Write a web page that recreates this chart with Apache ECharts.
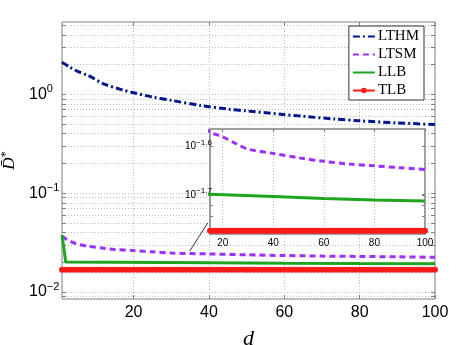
<!DOCTYPE html>
<html>
<head>
<meta charset="utf-8">
<script src="https://cdn.jsdelivr.net/npm/echarts@6/dist/echarts.min.js"></script>
<style>
  html, body { margin: 0; padding: 0; background: #fff; }
  #chart { width: 473px; height: 345px; }
</style>
</head>
<body>
<div id="chart"></div>
<script>
// values
const lthmD = [1, 3, 5, 8, 12, 17, 20, 25, 30, 38, 45, 50, 59, 65, 73, 80, 90, 100];
const lthm = [2.12, 1.89, 1.72, 1.55, 1.28, 1.11, 1.04, 0.94, 0.87, 0.77, 0.71, 0.68, 0.63, 0.6, 0.565, 0.54, 0.515, 0.495];

const ltsmD = [1, 2, 3, 5, 8, 12, 15, 20, 25, 30, 40, 50, 60, 70, 80, 90, 100];
const ltsm = [0.0366, 0.0345, 0.0328, 0.0306, 0.029, 0.0278, 0.0269, 0.0263, 0.0255, 0.0248, 0.0243, 0.0238, 0.0234, 0.0231, 0.0229, 0.0227, 0.0225];

const llbD = [1, 2, 15, 40, 60, 80, 100];
const llb = [0.0375, 0.0201, 0.02, 0.0198, 0.0196, 0.01946, 0.01937];

// TLB is flat, one marker per d
const tlbD = [1, 2, 3, 4, 5, 6, 7, 8, 9, 10, 11, 12, 13, 14, 15, 16, 17, 18, 19, 20,
  21, 22, 23, 24, 25, 26, 27, 28, 29, 30, 31, 32, 33, 34, 35, 36, 37, 38, 39, 40,
  41, 42, 43, 44, 45, 46, 47, 48, 49, 50, 51, 52, 53, 54, 55, 56, 57, 58, 59, 60,
  61, 62, 63, 64, 65, 66, 67, 68, 69, 70, 71, 72, 73, 74, 75, 76, 77, 78, 79, 80,
  81, 82, 83, 84, 85, 86, 87, 88, 89, 90, 91, 92, 93, 94, 95, 96, 97, 98, 99, 100];
const tlbLevel = 0.0168;

// ticks
const xTicks = [20, 40, 60, 80, 100];
const yLabelValues = [0.01, 0.1, 1];
const yLabelExps = ["\u22122", "\u22121", "0"];
const yGridValues = [0.009, 0.01, 0.02, 0.03, 0.04, 0.05, 0.06, 0.07, 0.08, 0.09,
  0.1, 0.2, 0.3, 0.4, 0.5, 0.6, 0.7, 0.8, 0.9, 1, 2, 3, 4, 5];
const insetYLabelValues = [Math.pow(10, -1.7), Math.pow(10, -1.6)];
const insetYLabelExps = ["\u22121.7", "\u22121.6"];
const insetYTicks = [0.017, 0.018, 0.019, Math.pow(10, -1.7), 0.02, Math.pow(10, -1.6)];

// arrow from the curves to the zoomed box
const arrowFrom = [34.9, 0.026];
const arrowTo = [39.7, 0.05];

const colors = {
  lthm: "#00158f",
  ltsm: "#9b30ff",
  llb: "#1ea51e",
  tlb: "#ff1a1a",
};

const sans = "Liberation Sans";
const serif = "Liberation Serif";
const gridGray = "#bdbdbd";
const boxGray = "#7f7f7f";

function pair(xs, ys) {
  return xs.map((x, i) => [x, ys[i]]);
}
const tlbData = tlbD.map((d) => [d, tlbLevel]);

function nearestLabel(v, values, labels) {
  let best = 0;
  values.forEach((c, i) => {
    if (Math.abs(Math.log10(c) - Math.log10(v)) < Math.abs(Math.log10(values[best]) - Math.log10(v))) best = i;
  });
  return labels[best];
}

function makeSeries(xi, yi, z, withArrow) {
  let s = [
    {
      name: "LTHM", type: "line", xAxisIndex: xi, yAxisIndex: yi, z,
      symbol: "none", smooth: 0.3,
      data: pair(lthmD, lthm),
      lineStyle: { color: colors.lthm, width: 3, type: [7, 3, 2, 3] },
      itemStyle: { color: colors.lthm },
    },
    {
      name: "LTSM", type: "line", xAxisIndex: xi, yAxisIndex: yi, z,
      symbol: "none", smooth: 0.3,
      data: pair(ltsmD, ltsm),
      lineStyle: { color: colors.ltsm, width: 3, type: [6, 4] },
      itemStyle: { color: colors.ltsm },
    },
    {
      name: "LLB", type: "line", xAxisIndex: xi, yAxisIndex: yi, z,
      symbol: "none",
      data: pair(llbD, llb),
      lineStyle: { color: colors.llb, width: 3 },
      itemStyle: { color: colors.llb },
    },
    {
      name: "TLB", type: "line", xAxisIndex: xi, yAxisIndex: yi, z,
      symbol: "circle", symbolSize: 6, showSymbol: true,
      data: tlbData,
      lineStyle: { color: colors.tlb, width: 3 },
      itemStyle: { color: colors.tlb },
    },
  ];
  if (withArrow) {
    s[1].markLine = {
      silent: true,
      symbol: ["none", "arrow"],
      symbolSize: [0, 7],
      label: { show: false },
      lineStyle: { color: "#000", width: 0.8, type: "solid" },
      data: [[{ coord: arrowFrom }, { coord: arrowTo }]],
    };
  }
  return s;
}

const supRich = (big, small, lift) => ({
  b: { fontSize: big, fontFamily: sans, color: "#000" },
  s: { fontSize: small, fontFamily: sans, color: "#000", padding: [0, 0, lift, 0] },
});

const noMarker = { opacity: 0 };

let options = {
  animation: false,
  backgroundColor: "#fff",
  grid: [
    { left: 62, right: 38, top: 22, bottom: 46, outerBoundsMode: "none", containLabel: false, show: true, borderColor: boxGray, borderWidth: 1, backgroundColor: "transparent" },
    { left: 210, width: 215, top: 129, height: 105, outerBoundsMode: "none", containLabel: false, show: true, borderColor: boxGray, borderWidth: 1.5, backgroundColor: "#fff", z: 3 },
  ],
  legend: {
    data: [
      { name: "LTHM", itemStyle: noMarker },
      { name: "LTSM", itemStyle: noMarker },
      { name: "LLB", itemStyle: noMarker },
      { name: "TLB" },
    ],
    orient: "vertical",
    right: 49,
    top: 26,
    itemWidth: 22,
    itemHeight: 7,
    itemGap: 3,
    padding: [3, 5, 2, 3],
    backgroundColor: "#fff",
    borderColor: "#333",
    borderWidth: 1,
    borderRadius: 0,
    textStyle: { fontFamily: serif, fontSize: 15, lineHeight: 15, color: "#000", padding: [0, 0, 0, -2] },
  },
  xAxis: [
    {
      gridIndex: 0, type: "value", min: 1, max: 100,
      name: "d", nameLocation: "middle", nameGap: 29,
      nameTextStyle: { fontFamily: serif, fontStyle: "italic", fontSize: 22, color: "#000" },
      axisLine: { show: false },
      axisTick: { customValues: xTicks, inside: true, length: 4, lineStyle: { color: boxGray } },
      axisLabel: { customValues: xTicks, fontFamily: sans, fontSize: 16, color: "#000", margin: 6 },
      splitLine: { show: true, lineStyle: { color: gridGray, type: [1, 2] } },
    },
    {
      gridIndex: 0, type: "value", min: 1, max: 100, position: "top",
      axisLine: { show: false },
      axisTick: { customValues: xTicks, inside: true, length: 4, lineStyle: { color: boxGray } },
      axisLabel: { show: false },
      splitLine: { show: false },
    },
    {
      gridIndex: 1, type: "value", min: 15, max: 100, z: 3,
      axisLine: { show: false },
      axisTick: { customValues: xTicks, inside: true, length: 3, lineStyle: { color: boxGray } },
      axisLabel: { customValues: xTicks, fontFamily: sans, fontSize: 10, color: "#000", margin: 4 },
      splitLine: { show: true, lineStyle: { color: gridGray, type: [1, 2] } },
    },
    {
      gridIndex: 1, type: "value", min: 15, max: 100, position: "top", z: 3,
      axisLine: { show: false },
      axisTick: { customValues: xTicks, inside: true, length: 3, lineStyle: { color: boxGray } },
      axisLabel: { show: false },
      splitLine: { show: false },
    },
  ],
  yAxis: [
    {
      gridIndex: 0, type: "log", logBase: 10, min: 0.0085, max: 5.4,
      name: "{d|D\u0304}{s|*}", nameLocation: "middle", nameGap: 39, nameRotate: 90,
      nameTextStyle: {
        rich: {
          d: { fontFamily: serif, fontStyle: "italic", fontSize: 17, color: "#000" },
          s: { fontFamily: serif, fontSize: 12, color: "#000", padding: [0, 0, 8, 0] },
        },
      },
      axisLine: { show: false },
      axisTick: { customValues: yGridValues, inside: true, length: 4, lineStyle: { color: boxGray } },
      axisLabel: {
        customValues: yLabelValues,
        align: "left",
        margin: 33,
        formatter: (v) => "{b|10}{s|" + nearestLabel(v, yLabelValues, yLabelExps) + "}",
        rich: supRich(16, 11, 10),
      },
      splitLine: { show: true, lineStyle: { color: gridGray, type: [1, 2] } },
    },
    {
      gridIndex: 0, type: "log", logBase: 10, min: 0.0085, max: 5.4, position: "right",
      axisLine: { show: false },
      axisTick: { customValues: yGridValues, inside: true, length: 4, lineStyle: { color: boxGray } },
      axisLabel: { show: false },
      splitLine: { show: false },
    },
    {
      gridIndex: 1, type: "log", logBase: 10, min: 0.01655, max: 0.0273, z: 3,
      axisLine: { show: false },
      axisTick: { customValues: insetYTicks, inside: true, length: 3, lineStyle: { color: boxGray } },
      axisLabel: {
        customValues: insetYLabelValues,
        align: "left",
        margin: 25,
        formatter: (v) => "{b|10}{s|" + nearestLabel(v, insetYLabelValues, insetYLabelExps) + "}",
        rich: supRich(10, 8, 7),
      },
      splitLine: { show: false },
    },
    {
      gridIndex: 1, type: "log", logBase: 10, min: 0.01655, max: 0.0273, position: "right", z: 3,
      axisLine: { show: false },
      axisTick: { customValues: insetYTicks, inside: true, length: 3, lineStyle: { color: boxGray } },
      axisLabel: { show: false },
      splitLine: { show: false },
    },
  ],
  series: [...makeSeries(0, 0, 2, true), ...makeSeries(2, 2, 4, false)],
};

var chart = echarts.init(document.getElementById("chart"), null, { renderer: "canvas" });
chart.setOption(options);
window.addEventListener("resize", function () {
  chart.resize();
});
</script>
</body>
</html>
